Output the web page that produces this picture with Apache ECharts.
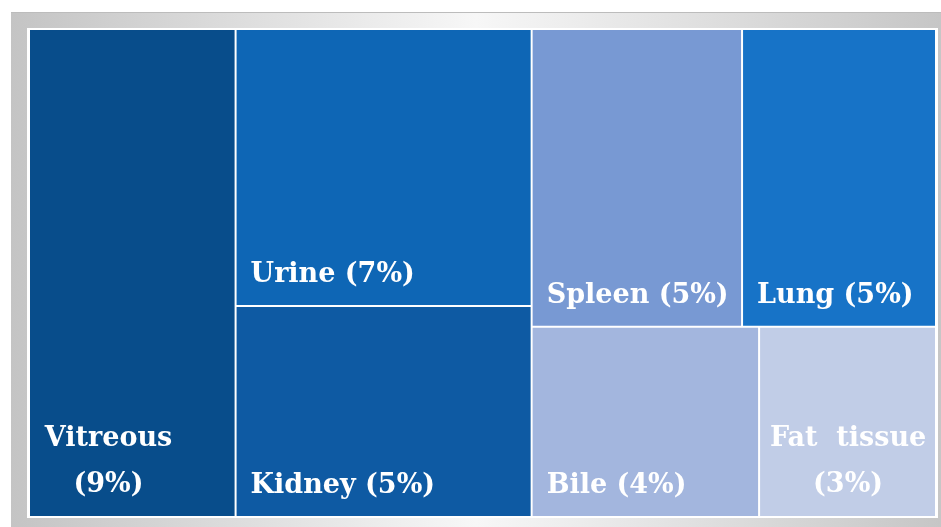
<!DOCTYPE html>
<html>
<head>
<meta charset="utf-8">
<script src="https://cdn.jsdelivr.net/npm/echarts@6/dist/echarts.min.js"></script>
<style>
  html, body { margin: 0; padding: 0; background: #fff; }
  #main { width: 941px; height: 527px; }
</style>
</head>
<body>
<div id="main"></div>
<script>
// tissue names and their shares (labels)
var names  = ['Vitreous', 'Urine', 'Kidney', 'Spleen', 'Lung', 'Bile', 'Fat  tissue'];
var shares = [9, 7, 5, 5, 5, 4, 3];
// relative box areas
var areas  = [100.7, 81.9, 62.4, 62.6, 57.7, 43.2, 33.6];
var colors = ['#084d8b', '#0e66b5', '#0e5aa3', '#7899d3', '#1773c7', '#a3b6de', '#c1cde7'];

var wrapped = [true, false, false, false, false, false, true];
var centerX = [78.5, 0, 0, 0, 0, 0, 88];

function leaf(i) {
    var item = {
        name: names[i],
        value: areas[i],
        share: shares[i],
        idx: i,
        itemStyle: { color: colors[i] }
    };
    if (wrapped[i]) {
        item.label = { position: [centerX[i], '100%'], align: 'center', offset: [0, -105] };
    }
    return item;
}

var data = [
    leaf(0),
    { name: 'g1', children: [leaf(1), leaf(2)] },
    { name: 'g2', children: [
        { name: 'g3', children: [leaf(3), leaf(4)] },
        { name: 'g4', children: [leaf(5), leaf(6)] }
    ] }
];

var lvl = { itemStyle: { borderWidth: 0, gapWidth: 2, borderColor: '#fff' } };

var myChart = echarts.init(document.getElementById('main'));
var option = {
    animation: false,
    graphic: {
        elements: [
            {   // gray frame
                type: 'rect', z: 0,
                shape: { x: 11, y: 12, width: 930, height: 515 },
                style: {
                    fill: new echarts.graphic.LinearGradient(0, 0, 1, 0, [
                        { offset: 0, color: '#c4c4c4' },
                        { offset: 0.5, color: '#f7f7f7' },
                        { offset: 1, color: '#c6c6c6' }
                    ])
                }
            },
            {
                type: 'line', z: 0,
                shape: { x1: 11, y1: 12.5, x2: 941, y2: 12.5 },
                style: { stroke: '#bcbcbc', lineWidth: 1 }
            },
            {
                type: 'rect', z: 0,
                shape: { x: 27, y: 28, width: 911, height: 490 },
                style: { fill: '#ffffff' }
            }
        ]
    },
    series: [{
        type: 'treemap',
        left: 29,
        top: 29,
        width: 907,
        height: 488,
        sort: false,
        squareRatio: 1,
        roam: false,
        nodeClick: false,
        breadcrumb: { show: false },
        visibleMin: 0,
        label: {
            show: true,
            position: [9, '100%'],
            offset: [0, -58],
            align: 'left',
            verticalAlign: 'top',
            color: '#fff',
            fontFamily: 'DejaVu Serif',
            fontWeight: 'bold',
            fontSize: 27,
            lineHeight: 46,
            formatter: function (p) {
                var i = p.data.idx;
                return names[i] + (wrapped[i] ? '\n' : ' ') + '(' + shares[i] + '%)';
            }
        },
        upperLabel: { show: false },
        levels: [
            { itemStyle: { borderWidth: 1, gapWidth: 2, borderColor: '#fff' } },
            lvl, lvl, lvl
        ],
        data: data
    }]
};
myChart.setOption(option);
</script>
</body>
</html>
